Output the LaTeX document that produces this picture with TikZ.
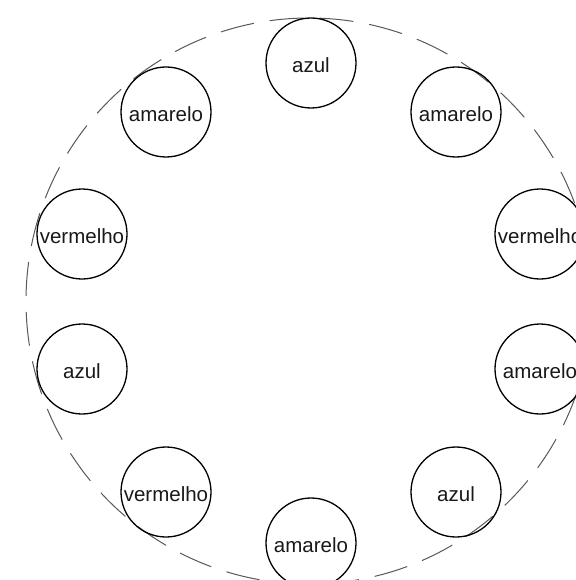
\documentclass[tikz,border=0pt]{standalone}
\usepackage{fontspec}
\setmainfont{Liberation Sans}
\tikzset{
  ball/.style={circle, draw=black, line width=1.3bp, minimum size=90bp, inner sep=0pt,
    text height=19bp, text depth=0bp, font=\fontsize{20.5bp}{24bp}\selectfont, text=black!90},
  ring/.style={draw=black!65, line width=1bp, dash pattern=on 34bp off 16bp}
}
\newcommand{\lbl}[1]{\makebox[0pt]{#1}}
\begin{document}
\begin{tikzpicture}[x=1bp,y=-1bp]
\useasboundingbox (0,0) rectangle (576,580);
\clip (0,0) rectangle (576,580);
\fill[white] (0,0) rectangle (576,580);
\coordinate (c) at (309,301);
\draw[ring] (c) circle[radius=283bp];
\node[ball] (n1) at (311,63) {\lbl{azul}};
\node[ball] (n2) at (456,112) {\lbl{amarelo}};
\node[ball] (n3) at (540,234) {\lbl{vermelho}};
\node[ball] (n4) at (540,369) {\lbl{amarelo}};
\node[ball] (n5) at (456,492) {\lbl{azul}};
\node[ball] (n6) at (311,543) {\lbl{amarelo}};
\node[ball] (n7) at (166,492) {\lbl{vermelho}};
\node[ball] (n8) at (82,369) {\lbl{azul}};
\node[ball] (n9) at (82,234) {\lbl{vermelho}};
\node[ball] (n10) at (166,112) {\lbl{amarelo}};
\end{tikzpicture}
\end{document}
